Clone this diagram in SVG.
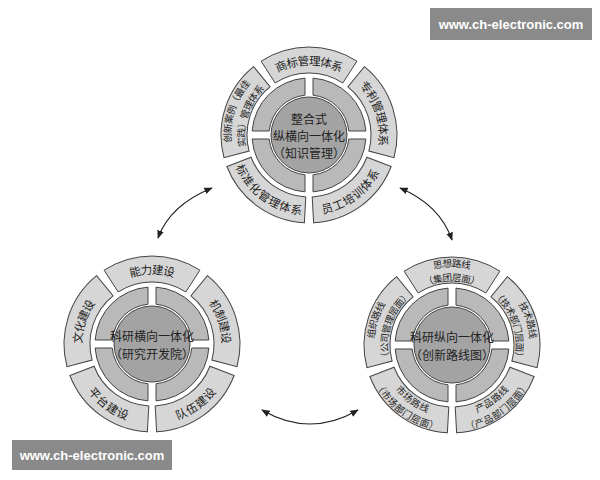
<svg xmlns="http://www.w3.org/2000/svg" width="600" height="480" viewBox="0 0 600 480">
<style>
.seg{fill:#d6d6d6;stroke:#444;stroke-width:1}
.quad{fill:#b9b9b9;stroke:#444;stroke-width:1}
.core{fill:#a3a3a3;stroke:#444;stroke-width:1}
.t{font-family:"Noto Sans CJK SC",sans-serif;fill:#222;text-anchor:middle;dominant-baseline:central}
.s{font-size:11.5px}.d{font-size:9.5px}.c{font-size:12px}
.conn{fill:none;stroke:#222;stroke-width:1.2}
.wm{font-family:"Liberation Sans",sans-serif;font-size:13px;fill:#fff;font-weight:bold}
</style>
<defs>
<marker id="ah" viewBox="0 0 10 10" refX="9" refY="5" markerWidth="7" markerHeight="7" orient="auto-start-reverse"><path d="M0 1 L10 5 L0 9 Z" fill="#222"/></marker>
<path id="seg" d="M -47.9 -73.8 A 88 88 0 0 1 47.9 -73.8 L 33.8 -52 A 62 62 0 0 0 -33.8 -52 Z"/>
<path id="quad" d="M 4 -56.86 A 57 57 0 0 1 56.86 -4 L 39.8 -4 A 40 40 0 0 0 4 -39.8 Z"/>
<path id="T75" d="M -40.8 -62.9 A 75 75 0 0 1 40.8 -62.9"/>
<path id="T80" d="M -44.7 -68.8 A 82 82 0 0 1 44.7 -68.8"/>
<path id="T69" d="M -37 -57 A 68 68 0 0 1 37 -57"/>
<path id="R75" d="M 47.2 -58.3 A 75 75 0 0 1 72.4 19.4"/>
<path id="R80" d="M 51.6 -63.7 A 82 82 0 0 1 79.2 21.2"/>
<path id="R69" d="M 42.8 -52.8 A 68 68 0 0 1 65.7 17.6"/>
<path id="BR75" d="M 3.9 74.9 A 75 75 0 0 0 70 26.9"/>
<path id="BR80" d="M 4.3 81.9 A 82 82 0 0 0 76.6 29.4"/>
<path id="BR69" d="M 3.6 67.9 A 68 68 0 0 0 63.5 24.4"/>
<path id="BL75" d="M -70 26.9 A 75 75 0 0 0 -3.9 74.9"/>
<path id="BL80" d="M -76.6 29.4 A 82 82 0 0 0 -4.3 81.9"/>
<path id="BL69" d="M -63.5 24.4 A 68 68 0 0 0 -3.6 67.9"/>
<path id="L75" d="M -72.4 19.4 A 75 75 0 0 1 -47.2 -58.3"/>
<path id="L80" d="M -79.2 21.2 A 82 82 0 0 1 -51.6 -63.7"/>
<path id="L69" d="M -65.7 17.6 A 68 68 0 0 1 -42.8 -52.8"/>
<g id="wheel">
<use href="#seg" class="seg"/><use href="#seg" class="seg" transform="rotate(72)"/><use href="#seg" class="seg" transform="rotate(144)"/><use href="#seg" class="seg" transform="rotate(216)"/><use href="#seg" class="seg" transform="rotate(288)"/>
<use href="#quad" class="quad"/><use href="#quad" class="quad" transform="rotate(90)"/><use href="#quad" class="quad" transform="rotate(180)"/><use href="#quad" class="quad" transform="rotate(270)"/>
<circle r="38" class="core"/>
</g>
</defs>
<g id="top-wheel" transform="translate(309,135)">
<use href="#wheel"/>
<text class="t s"><textPath href="#T75" startOffset="50%">商标管理体系</textPath></text>
<text class="t s"><textPath href="#R75" startOffset="50%">专利管理体系</textPath></text>
<text class="t s"><textPath href="#BR75" startOffset="50%">员工培训体系</textPath></text>
<text class="t s"><textPath href="#BL75" startOffset="50%">标准化管理体系</textPath></text>
<text class="t d"><textPath href="#L80" startOffset="50%">创新案例（最佳</textPath></text>
<text class="t d"><textPath href="#L69" startOffset="50%">实践）管理体系</textPath></text>
<text class="t c" y="-17">整合式</text>
<text class="t c" y="0">纵横向一体化</text>
<text class="t c" y="17">（知识管理）</text>
</g>
<g id="left-wheel" transform="translate(152,344)">
<use href="#wheel"/>
<text class="t s"><textPath href="#T75" startOffset="50%">能力建设</textPath></text>
<text class="t s"><textPath href="#R75" startOffset="50%">机制建设</textPath></text>
<text class="t s"><textPath href="#BR75" startOffset="50%">队伍建设</textPath></text>
<text class="t s"><textPath href="#BL75" startOffset="50%">平台建设</textPath></text>
<text class="t s"><textPath href="#L75" startOffset="50%">文化建设</textPath></text>
<text class="t c" y="-9">科研横向一体化</text>
<text class="t c" y="9">（研究开发院）</text>
</g>
<g id="right-wheel" transform="translate(452,345)">
<use href="#wheel"/>
<text class="t d"><textPath href="#T80" startOffset="50%">思想路线</textPath></text>
<text class="t d"><textPath href="#T69" startOffset="50%">（集团层面）</textPath></text>
<text class="t d"><textPath href="#R80" startOffset="50%">技术路线</textPath></text>
<text class="t d"><textPath href="#R69" startOffset="50%">（技术部门层面）</textPath></text>
<text class="t d"><textPath href="#BR69" startOffset="50%">产品路线</textPath></text>
<text class="t d"><textPath href="#BR80" startOffset="50%">（产品部门层面）</textPath></text>
<text class="t d"><textPath href="#BL69" startOffset="50%">市场路线</textPath></text>
<text class="t d"><textPath href="#BL80" startOffset="50%">（市场部门层面）</textPath></text>
<text class="t d"><textPath href="#L80" startOffset="50%">组织路线</textPath></text>
<text class="t d"><textPath href="#L69" startOffset="50%">（公司管理层面）</textPath></text>
<text class="t c" y="-9">科研纵向一体化</text>
<text class="t c" y="9">（创新路线图）</text>
</g>
<g id="connectors">
<path class="conn" d="M 158 238 Q 170 205 212 188" marker-start="url(#ah)" marker-end="url(#ah)"/>
<path class="conn" d="M 400 188 Q 440 205 452 240" marker-start="url(#ah)" marker-end="url(#ah)"/>
<path class="conn" d="M 262 410 Q 310 438 358 410" marker-start="url(#ah)" marker-end="url(#ah)"/>
</g>
<g id="watermarks">
<rect x="430" y="8" width="162" height="32" fill="#8a8a8a"/>
<text class="wm" x="511" y="29" text-anchor="middle">www.ch-electronic.com</text>
<rect x="12" y="440" width="160" height="30" fill="#8a8a8a"/>
<text class="wm" x="92" y="460" text-anchor="middle">www.ch-electronic.com</text>
</g>
</svg>
